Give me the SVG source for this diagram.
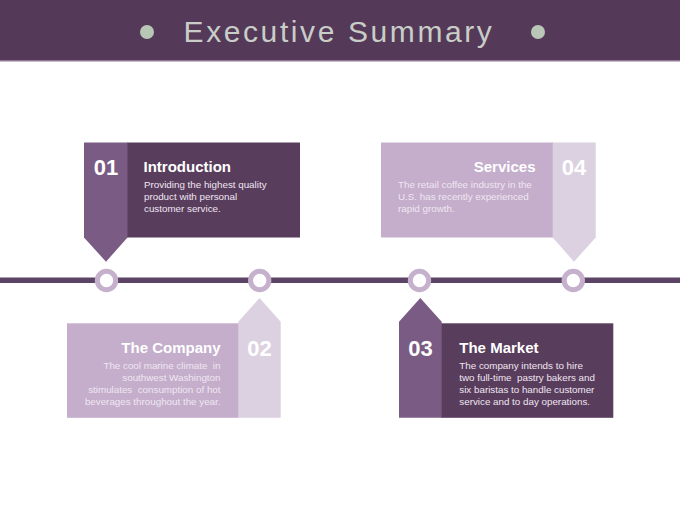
<svg xmlns="http://www.w3.org/2000/svg" width="680" height="510" viewBox="0 0 680 510">
<style>
.num{font-family:"Liberation Sans",Arial,sans-serif;font-weight:bold;font-size:22px;fill:#ffffff;text-anchor:middle}
.ttl{font-family:"Liberation Sans",Arial,sans-serif;font-weight:bold;font-size:15px;fill:#ffffff}
.body{font-family:"Liberation Sans",Arial,sans-serif;font-size:9.8px;fill:#F0E6F2;white-space:pre}
.dark{fill:#583D5C}
.mid{fill:#7A5B84}
.light{fill:#C4AECB}
.pale{fill:#DCD1E1}
.ring{fill:#ffffff;stroke:#C5B1CC;stroke-width:5}
</style>
<rect x="0" y="0" width="680" height="510" fill="#ffffff"/>
<g id="header">
<rect x="0" y="0" width="680" height="61" fill="#543A58"/>
<rect x="0" y="60" width="680" height="1.5" fill="#8F7896"/>
<circle cx="147" cy="32" r="7" fill="#B9C7B7"/>
<circle cx="538" cy="32" r="7" fill="#B9C7B7"/>
<text x="339" y="42" text-anchor="middle" font-family="'Liberation Sans',Arial,sans-serif" font-size="30" letter-spacing="2.6" fill="#C9CDC8">Executive Summary</text>
</g>
<g id="connectors">
<rect x="0" y="277.5" width="680" height="5.5" fill="#5C4466"/>
<circle class="ring" cx="106.5" cy="280.5" r="9.2"/>
<circle class="ring" cx="259.7" cy="280.5" r="9.2"/>
<circle class="ring" cx="419.5" cy="280.5" r="9.2"/>
<circle class="ring" cx="573.3" cy="280.5" r="9.2"/>
</g>
<g id="node-01">
<rect class="dark" x="127" y="142.5" width="173" height="95"/>
<polygon class="mid" points="84,142.5 127.5,142.5 127.5,237.5 106,261.7 84,237.5"/>
<text class="num" x="106" y="175">01</text>
<text class="ttl" x="143.5" y="172">Introduction</text>
<text class="body" x="144" y="188">Providing the highest quality</text>
<text class="body" x="144" y="200">product with personal</text>
<text class="body" x="144" y="212">customer service.</text>
</g>
<g id="node-04">
<rect class="light" x="381" y="142.5" width="172" height="95"/>
<polygon class="pale" points="552.7,142.5 595.7,142.5 595.7,237.5 574,261.7 552.7,237.5"/>
<text class="num" x="574" y="175">04</text>
<text class="ttl" x="535.5" y="172" text-anchor="end">Services</text>
<text class="body" x="398" y="188">The retail coffee industry in the</text>
<text class="body" x="398" y="200">U.S. has recently experienced</text>
<text class="body" x="398" y="212">rapid growth.</text>
</g>
<g id="node-02">
<rect class="light" x="67" y="323.3" width="172" height="94.5"/>
<polygon class="pale" points="238.3,321.7 259.5,298 280.7,321.7 280.7,417.8 238.3,417.8"/>
<text class="num" x="259.5" y="356">02</text>
<text class="ttl" x="220.5" y="353" text-anchor="end">The Company</text>
<text class="body" x="220.5" y="369" text-anchor="end">The cool marine climate  in</text>
<text class="body" x="220.5" y="381" text-anchor="end">southwest Washington</text>
<text class="body" x="220.5" y="393" text-anchor="end">stimulates  consumption of hot</text>
<text class="body" x="220.5" y="405" text-anchor="end">beverages throughout the year.</text>
</g>
<g id="node-03">
<rect class="dark" x="441" y="323.3" width="172.3" height="94.5"/>
<polygon class="mid" points="399,321.7 420.3,298 441.7,321.7 441.7,417.8 399,417.8"/>
<text class="num" x="420.5" y="356">03</text>
<text class="ttl" x="459.3" y="353">The Market</text>
<text class="body" x="459.3" y="369">The company intends to hire</text>
<text class="body" x="459.3" y="381">two full-time  pastry bakers and</text>
<text class="body" x="459.3" y="393">six baristas to handle customer</text>
<text class="body" x="459.3" y="405">service and to day operations.</text>
</g>
</svg>
